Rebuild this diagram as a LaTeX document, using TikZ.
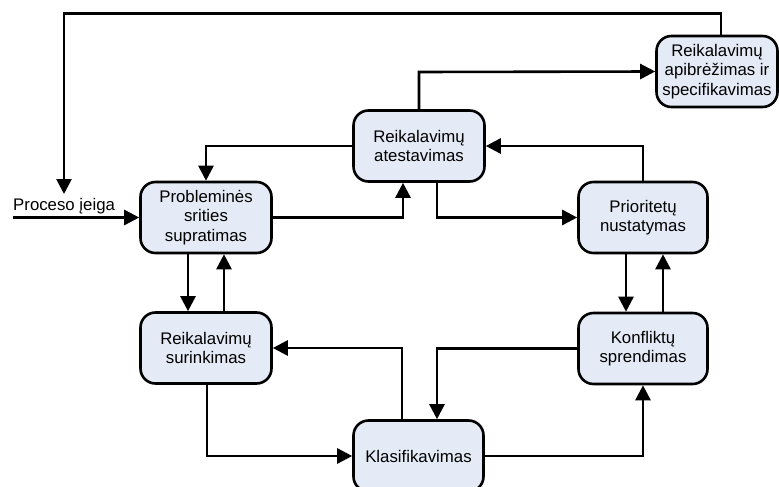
\documentclass[tikz,border=0pt]{standalone}
\usepackage{fontspec}
\setmainfont{Liberation Sans}
\usetikzlibrary{arrows.meta}
\definecolor{boxfill}{RGB}{229,235,246}
\tikzset{
  stage/.style={draw=black, line width=2.6pt, fill=boxfill, rounded corners=15pt,
    minimum width=#1, minimum height=71pt, inner sep=0pt, align=center,
    font=\fontsize{16.8pt}{19.5pt}\selectfont},
  stage/.default=130pt,
  flow/.style={line width=2.6pt, -{Triangle[length=15pt,width=15pt]}},
  plain/.style={line width=2.6pt}
}
\begin{document}
\begin{tikzpicture}[x=1pt,y=-1pt]
\useasboundingbox (0,0) rectangle (779,487);
% process stages
\node[stage=131pt] (prob) at (206,217.5) {Probleminės\\srities\\supratimas};
\node[stage=131pt] (atest) at (419,146) {Reikalavimų\\atestavimas};
\node[stage=129pt] (prior) at (643,217.5) {Prioritetų\\nustatymas};
\node[stage=131pt] (surink) at (206,348) {Reikalavimų\\surinkimas};
\node[stage=129pt] (konf) at (643,348.5) {Konfliktų\\sprendimas};
\node[stage=130pt] (klas) at (418.5,456) {Klasifikavimas};
\node[stage=121pt] (apib) at (717,71.5) {Reikalavimų\\apibrėžimas ir\\specifikavimas};
% loose ends
\coordinate (in) at (13,217.5);
\coordinate (back) at (64,194);
\node[anchor=base west, inner sep=0pt, font=\fontsize{16.8pt}{19.5pt}\selectfont] (inlabel) at (13,210) {Proceso įeiga};
% connectors
\draw[flow] (in) -- (prob.west);
\draw[flow] (atest.north) -- (419,72) -- (apib.west);
\draw[flow] (apib.north -| 721,0) -- (721,13.5) -- (64,13.5) -- (back);
\draw[flow] (atest.west) -| (prob.north);
\draw[flow] (prob.east) -- (403,217.5) -- (atest.south -| 403,0);
\draw[flow] (atest.south -| 437,0) -- (437,217.5) -- (prior.west);
\draw[flow] (prior.north) |- (atest.east);
\draw[flow] (prob.south -| 188,0) -- (surink.north -| 188,0);
\draw[flow] (surink.north -| 224,0) -- (prob.south -| 224,0);
\draw[flow] (prior.south -| 626,0) -- (konf.north -| 626,0);
\draw[flow] (konf.north -| 663,0) -- (prior.south -| 663,0);
\draw[flow] (konf.west) -- (437,348.5) -- (klas.north -| 437,0);
\draw[flow] (klas.north -| 402,0) -- (402,348) -- (surink.east);
\draw[flow] (surink.south -| 207,0) -- (207,456) -- (klas.west);
\draw[flow] (klas.east) -| (konf.south);
\end{tikzpicture}
\end{document}
